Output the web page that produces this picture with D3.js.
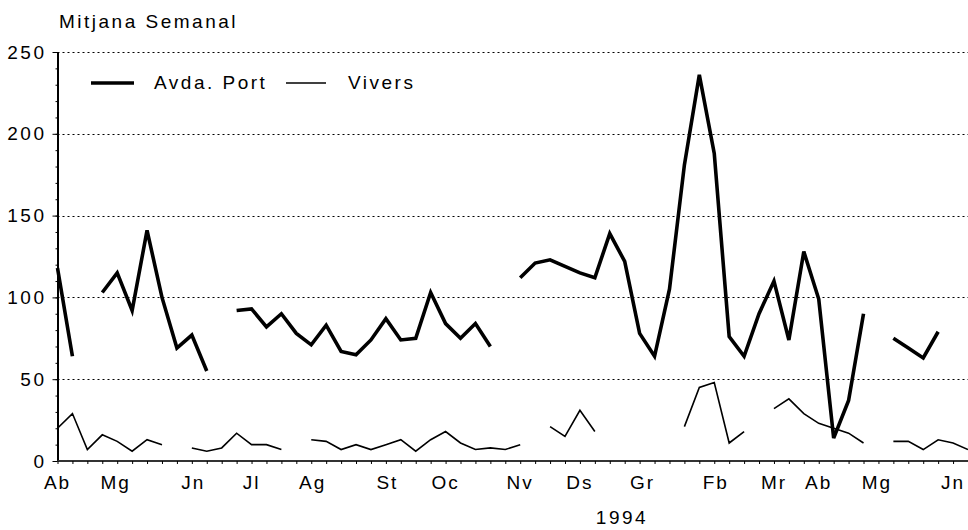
<!DOCTYPE html>
<html>
<head>
<meta charset="utf-8">
<script src="https://cdn.jsdelivr.net/npm/d3@7"></script>
<style>
  body { margin: 0; background: #fff; }
  text { font-family: "Liberation Sans", Arial, sans-serif; fill: #000; }
</style>
</head>
<body>
<div id="chart"></div>
<script>
// weekly averages, null = no data that week
const avdaPort = [118, 64, null, 103, 115, 92, 141, 100, 69, 77, 55, null, 92, 93, 82, 90, 78, 71, 83, 67,
    65, 74, 87, 74, 75, 103, 84, 75, 84, 70, null, 112, 121, 123, 119, 115, 112, 139, 122, 78,
    64, 105, 181, 236, 188, 76, 64, 90, 110, 74, 128, 99, 14, 37, 90, null, 75, 69, 63, 79, null, null];
const vivers = [20, 29, 7, 16, 12, 6, 13, 10, null, 8, 6, 8, 17, 10, 10, 7, null, 13, 12, 7,
    10, 7, 10, 13, 6, 13, 18, 11, 7, 8, 7, 10, null, 21, 15, 31, 18, null, null, null,
    null, null, 21, 45, 48, 11, 18, null, 32, 38, 29, 23, 20, 17, 11, null, 12, 12, 7, 13, 11, 7];

const monthLabels = ["Ab", "Mg", "Jn", "Jl", "Ag", "St", "Oc", "Nv", "Ds", "Gr", "Fb", "Mr", "Ab", "Mg", "Jn"];
const monthWeeks = [0, 3.9, 9.1, 13, 17.1, 22.1, 26, 31, 35, 39.2, 44.1, 48, 51, 54.9, 60];
const yTicks = [0, 50, 100, 150, 200, 250];

const width = 968, height = 530;
const margin = {top: 52, right: 0, bottom: 69, left: 57.5};
const fontSize = "19px";

const svg = d3.select("#chart").append("svg")
    .attr("width", width)
    .attr("height", height);

const x = d3.scaleLinear()
    .domain([0, avdaPort.length - 1])
    .range([margin.left, width - margin.right]);

const y = d3.scaleLinear()
    .domain([0, 250])
    .range([height - margin.bottom, margin.top]);

// dotted gridlines
svg.append("g")
    .selectAll("line")
    .data(yTicks.filter(d => d > 0))
    .enter()
    .append("line")
    .attr("x1", margin.left)
    .attr("x2", width)
    .attr("y1", d => Math.round(y(d)) + 0.5)
    .attr("y2", d => Math.round(y(d)) + 0.5)
    .style("stroke", "#000")
    .style("stroke-width", 1)
    .style("stroke-dasharray", "2,3");

// y axis: minor ticks every 10
const yAxisMinor = d3.axisLeft(y).tickValues(d3.range(0, 251, 10)).tickSize(2).tickFormat("");
svg.append("g")
    .attr("transform", "translate(" + margin.left + ",0)")
    .call(yAxisMinor)
    .call(g => g.select(".domain").remove());

const yAxis = d3.axisLeft(y).tickValues(yTicks).tickSize(5).tickPadding(6);
svg.append("g")
    .attr("transform", "translate(" + margin.left + ",0)")
    .call(yAxis)
    .call(g => g.select(".domain").attr("d", "M0.5," + y(250) + "V" + y(0)).style("stroke-width", 2))
    .call(g => g.selectAll("text")
        .style("font-size", fontSize)
        .style("letter-spacing", "2.5px")
        .attr("font-family", null));

// x axis: a tick under every week
const xAxis = d3.axisBottom(x).tickValues(d3.range(0, avdaPort.length)).tickSize(3).tickFormat("");
svg.append("g")
    .attr("transform", "translate(0," + y(0) + ")")
    .call(xAxis)
    .call(g => g.select(".domain").attr("d", "M" + margin.left + ",0H" + width).style("stroke", "#333").style("stroke-width", 2));

// month labels
svg.append("g")
    .selectAll("text")
    .data(monthLabels)
    .enter()
    .append("text")
    .attr("x", (d, i) => x(monthWeeks[i]))
    .attr("y", 489)
    .attr("text-anchor", "middle")
    .style("font-size", fontSize)
    .style("letter-spacing", "2px")
    .text(d => d);

svg.append("text")
    .attr("x", 622)
    .attr("y", 524)
    .attr("text-anchor", "middle")
    .style("font-size", fontSize)
    .style("letter-spacing", "2.5px")
    .text("1994");

svg.append("text")
    .attr("x", 59)
    .attr("y", 28)
    .style("font-size", fontSize)
    .style("letter-spacing", "2.5px")
    .text("Mitjana Semanal");

// the two series
const line = d3.line()
    .defined(d => d != null)
    .x((d, i) => x(i))
    .y(d => y(d));

svg.append("path")
    .datum(vivers)
    .attr("d", line)
    .style("fill", "none")
    .style("stroke", "#000")
    .style("stroke-width", 1.6)
    .style("stroke-linejoin", "miter");

svg.append("path")
    .datum(avdaPort)
    .attr("d", line)
    .style("fill", "none")
    .style("stroke", "#000")
    .style("stroke-width", 3.6)
    .style("stroke-linejoin", "miter");

// legend
const legend = svg.append("g");
legend.append("line")
    .attr("x1", 91).attr("x2", 134)
    .attr("y1", 83).attr("y2", 83)
    .style("stroke", "#000").style("stroke-width", 3.6);
legend.append("text")
    .attr("x", 154).attr("y", 89)
    .style("font-size", fontSize)
    .style("letter-spacing", "2.5px")
    .text("Avda. Port");
legend.append("line")
    .attr("x1", 286).attr("x2", 326)
    .attr("y1", 83).attr("y2", 83)
    .style("stroke", "#000").style("stroke-width", 1.6);
legend.append("text")
    .attr("x", 348).attr("y", 89)
    .style("font-size", fontSize)
    .style("letter-spacing", "2.5px")
    .text("Vivers");
</script>
</body>
</html>
